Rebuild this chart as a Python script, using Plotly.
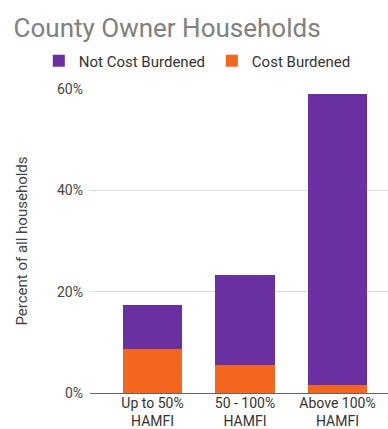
import plotly.graph_objects as go

categories = ["Up to 50%<br>HAMFI", "50 - 100%<br>HAMFI", "Above 100%<br>HAMFI"]
cost_burdened = [8.6, 5.5, 1.6]
not_cost_burdened = [8.8, 17.8, 57.5]
y_ticks = [0, 20, 40, 60]
y_tick_labels = ["0%", "20%", "40%", "60%"]

purple = "#6a2fa0"
orange = "#f4661d"

fig = go.Figure()
fig.add_trace(go.Bar(x=[0, 1, 2], y=cost_burdened, name="Cost Burdened",
                     marker=dict(color=orange, line=dict(width=0)), width=0.64,
                     legend="legend2", showlegend=True))
fig.add_trace(go.Bar(x=[0, 1, 2], y=not_cost_burdened, name="Not Cost Burdened",
                     marker=dict(color=purple, line=dict(width=0)), width=0.64,
                     legend="legend", showlegend=True))

legend_style = dict(orientation="h", xref="container", yref="container",
                    xanchor="left", yanchor="middle", y=0.858,
                    font=dict(size=15, color="#333333"),
                    itemwidth=30, itemsizing="constant",
                    bgcolor="rgba(0,0,0,0)", visible=True)

fig.update_layout(
    width=388, height=429,
    barmode="stack",
    showlegend=True,
    plot_bgcolor="white", paper_bgcolor="white",
    margin=dict(l=90, r=0, t=89, b=36, autoexpand=False),
    font=dict(family="Roboto, Arial, sans-serif", color="#333333"),
    title=dict(text="County Owner Households", x=0.035, xanchor="left",
               xref="container", y=0.935, yanchor="middle",
               font=dict(size=26, color="#808080")),
    legend=dict(x=0.1, **legend_style),
    legend2=dict(x=0.546, **legend_style),
    xaxis=dict(range=[-0.676, 2.546], tickvals=[0, 1, 2], ticktext=categories,
               tickfont=dict(size=14, color="#333333"), showgrid=False,
               showline=False, ticks="", zeroline=False,
               automargin=False, tickangle=0),
    yaxis=dict(range=[0, 60], tickvals=y_ticks, ticktext=y_tick_labels,
               tickfont=dict(size=14, color="#444444"),
               showgrid=True, gridcolor="#dddddd", gridwidth=1,
               zeroline=True, zerolinecolor="#666666", zerolinewidth=1,
               ticklabelstandoff=6, automargin=False,
               title=dict(text="Percent of all households",
                          font=dict(size=15, color="#444444"), standoff=25)),
)

fig.write_html("out.html")
